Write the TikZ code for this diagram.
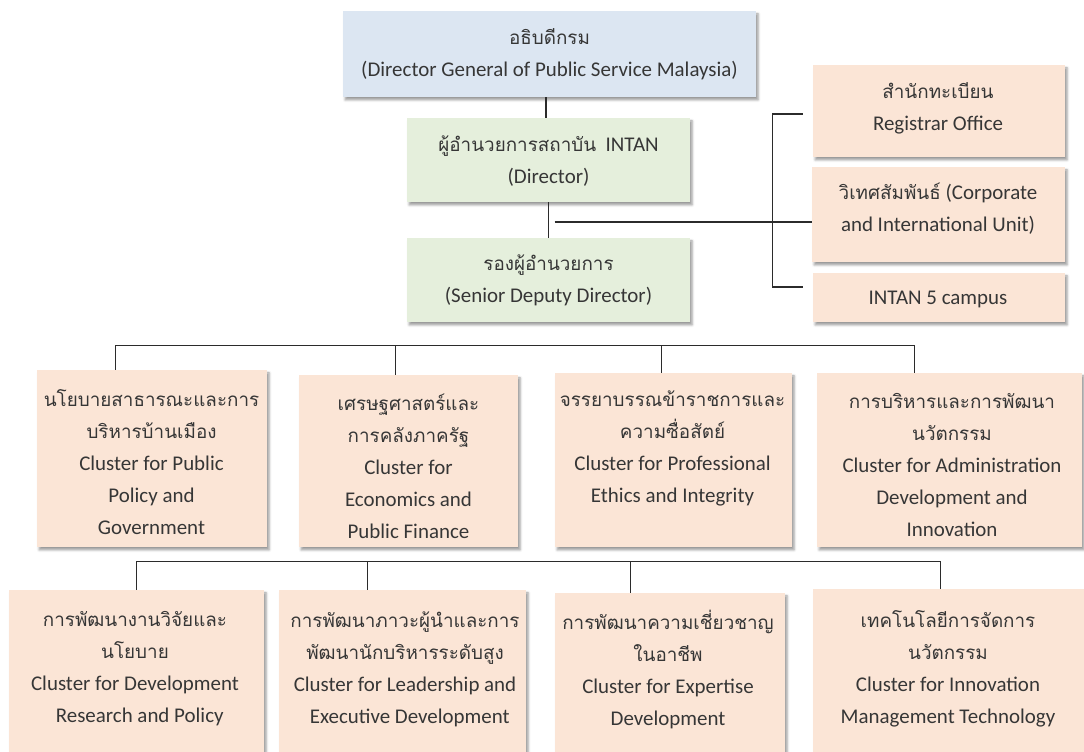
\documentclass[tikz,border=0pt]{standalone}
\usepackage{fontspec}
\setmainfont{Carlito}
\newfontfamily\thai[Script=Thai,Scale=0.9]{Loma}
\usetikzlibrary{calc,fit,shadows.blur}

\definecolor{topblue}{HTML}{DCE6F2}
\definecolor{leadgreen}{HTML}{E5EFDC}
\definecolor{unitpeach}{HTML}{FBE5D6}
\definecolor{ink}{HTML}{363636}
\definecolor{wirecol}{HTML}{2B2B2B}

\tikzset{
  orgbox/.style={draw=none, inner sep=0pt,
    blur shadow={shadow xshift=1.6pt, shadow yshift=-2.2pt,
                 shadow blur radius=1.8pt, shadow opacity=40}},
  lbl/.style={align=center, inner sep=0pt, text=ink,
    font=\fontsize{15.7}{24}\selectfont},
  wire/.style={draw=wirecol, line width=1.1pt}
}

\begin{document}
\begin{tikzpicture}[x=0.75pt, y=-0.75pt]
\useasboundingbox (0,0) rectangle (1084,752);
\clip (0,0) rectangle (1084,752);

% ---- boxes ----
\node[orgbox, fill=topblue,   fit={(343,11) (756,97)}]   (dg)  {};
\node[orgbox, fill=leadgreen, fit={(407,118) (690,202)}] (dir) {};
\node[orgbox, fill=leadgreen, fit={(407,238) (690,322)}] (dep) {};

\node[orgbox, fill=unitpeach, fit={(813,65) (1065,157)}]  (reg)    {};
\node[orgbox, fill=unitpeach, fit={(812,167) (1065,262)}] (corp)   {};
\node[orgbox, fill=unitpeach, fit={(813,273) (1065,322)}] (campus) {};

\node[orgbox, fill=unitpeach, fit={(37,370) (267,547)}]   (b1) {};
\node[orgbox, fill=unitpeach, fit={(299,375) (518,547)}]  (b2) {};
\node[orgbox, fill=unitpeach, fit={(555,373) (792,547)}]  (b3) {};
\node[orgbox, fill=unitpeach, fit={(817,373) (1082,547)}] (b4) {};

\node[orgbox, fill=unitpeach, fit={(9,590) (264,775)}]    (b5) {};
\node[orgbox, fill=unitpeach, fit={(279,590) (526,775)}]  (b6) {};
\node[orgbox, fill=unitpeach, fit={(555,593) (785,775)}]  (b7) {};
\node[orgbox, fill=unitpeach, fit={(813,589) (1090,775)}] (b8) {};

% ---- texts ----
\node[lbl] (dgt) at (549.5,54) {{\thai อธิบดีกรม}\\(Director General of Public Service Malaysia)};
\node[lbl] (dirt) at (548.5,161) {{\thai ผู้อำนวยการสถาบัน}\ \ INTAN\\(Director)};
\node[lbl] (dept) at (548.5,280) {{\thai รองผู้อำนวยการ}\\(Senior Deputy Director)};

\node[lbl] (regt) at (938,108) {{\thai สำนักทะเบียน}\\Registrar Office};
\node[lbl] (corpt) at (938,209) {{\thai วิเทศสัมพันธ์} (Corporate\\and International Unit)};
\node[lbl] (campust) at (938,299) {INTAN 5 campus};

\node[lbl] (b1t) at (151.5,462) {{\thai นโยบายสาธารณะและการ}\\{\thai บริหารบ้านเมือง}\\Cluster for Public\\Policy and\\Government};
\node[lbl] (b2t) at (408.5,466) {{\thai เศรษฐศาสตร์และ}\\{\thai การคลังภาครัฐ}\\Cluster for\\Economics and\\Public Finance};
\node[lbl] (b3t) at (672.5,448) {{\thai จรรยาบรรณข้าราชการและ}\\{\thai ความซื่อสัตย์}\\Cluster for Professional\\Ethics and Integrity};
\node[lbl] (b4t) at (952,465) {{\thai การบริหารและการพัฒนา}\\{\thai นวัตกรรม}\\Cluster for Administration\\Development and\\Innovation};

\node[lbl] (b5t) at (135,669) {{\thai การพัฒนางานวิจัยและ}\\{\thai นโยบาย}\\Cluster for Development\\\ \ Research and Policy};
\node[lbl] (b6t) at (405,669) {{\thai การพัฒนาภาวะผู้นำและการ}\\{\thai พัฒนานักบริหารระดับสูง}\\Cluster for Leadership and\\\ \ Executive Development};
\node[lbl] (b7t) at (668,669) {{\thai การพัฒนาความเชี่ยวชาญ}\\{\thai ในอาชีพ}\\Cluster for Expertise\\Development};
\node[lbl] (b8t) at (948,669) {{\thai เทคโนโลยีการจัดการ}\\{\thai นวัตกรรม}\\Cluster for Innovation\\Management Technology};

% ---- connectors ----
\draw[wire] (dg.south -| 546,0) -- (dir.north -| 546,0);
\draw[wire] (dir.south) -- (dep.north);
\coordinate (jn) at ($(dir.south)!0.5!(dep.north)$);
\draw[wire] ($(jn)+(6,2)$) -- ($(jn -| corp.west)+(0,2)$);

% bracket of the units
\draw[wire] ($(reg.west)+(-10,3)$) -- ($(reg.west)+(-40,3)$)
  -- ($(campus.west)+(-40,-10.5)$) -- ($(campus.west)+(-10,-10.5)$);

% clusters, first row
\draw[wire] ($(b1.north west)+(79,0)$) |- ($(b4.north west)+(98,-27)$)
  -- ($(b4.north west)+(98,0)$);
\draw[wire] ($(b2.north west)+(97,0)$) -- ++(0,-29);
\draw[wire] ($(b3.north west)+(107,0)$) -- ++(0,-27);

% clusters, second row
\draw[wire] ($(b5.north west)+(128,0)$) |- ($(b8.north west)+(128,-27)$)
  -- ($(b8.north west)+(128,0)$);
\draw[wire] ($(b6.north west)+(89,0)$) -- ++(0,-28);
\draw[wire] ($(b7.north west)+(76,0)$) -- ++(0,-31);
\end{tikzpicture}
\end{document}
